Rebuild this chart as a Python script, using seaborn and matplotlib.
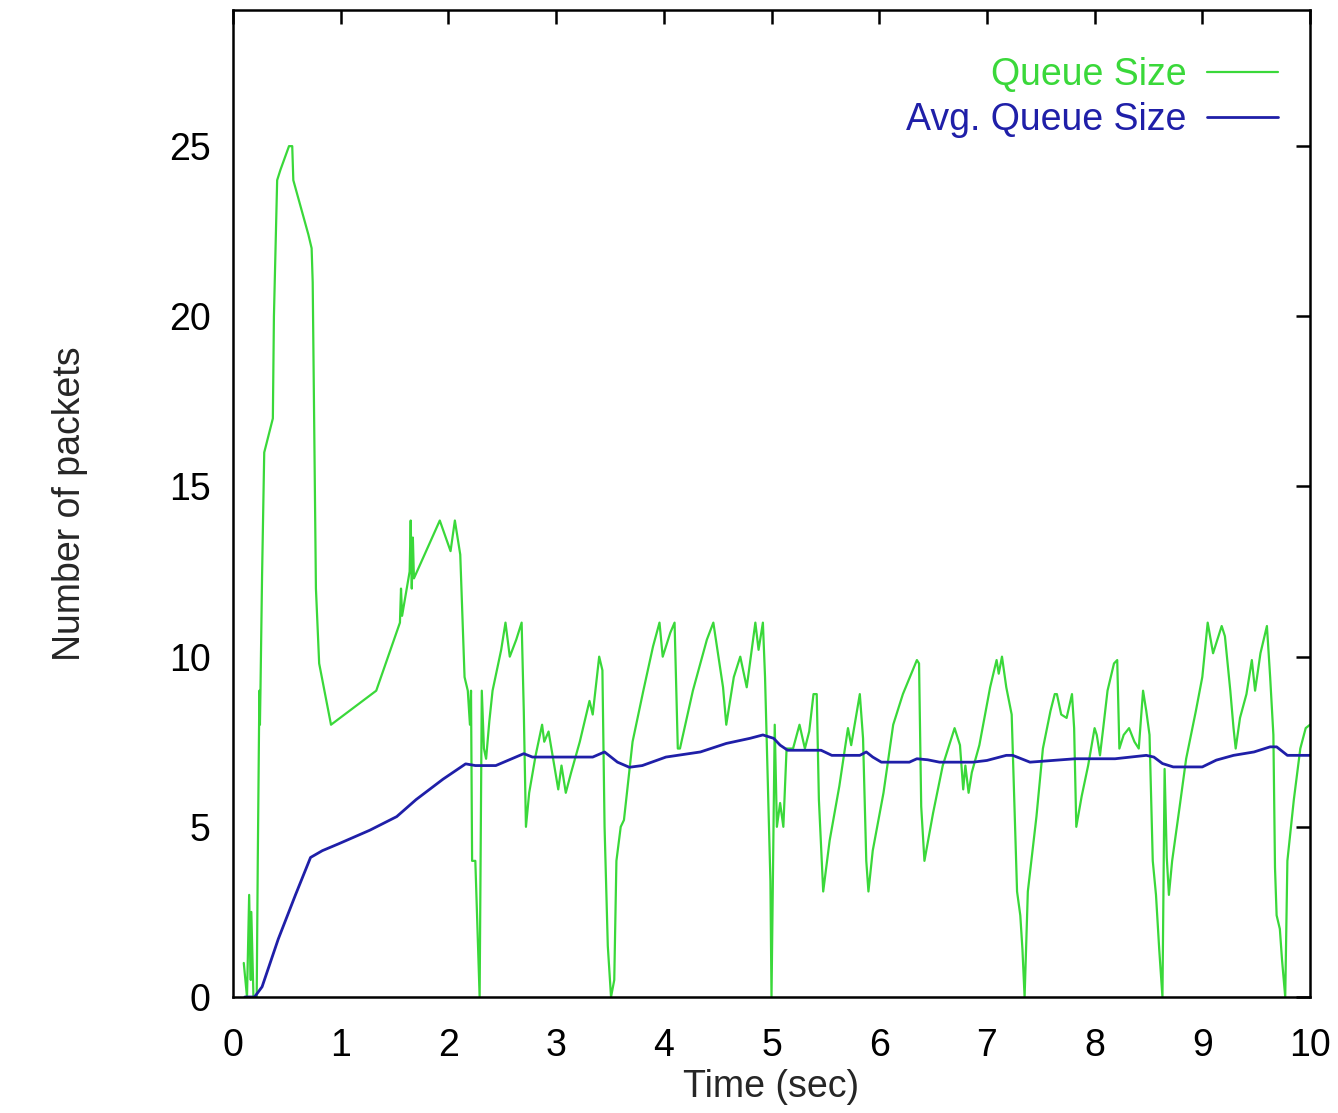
import numpy as np
import pandas as pd
import matplotlib
matplotlib.use('Agg')
import matplotlib.pyplot as plt
import seaborn as sns

# Instantaneous queue size (time in sec, packets)
queue_time = [
    0.10, 0.13, 0.15, 0.165, 0.17, 0.19, 0.22, 0.23, 0.245, 0.25, 0.255, 0.27, 0.29, 0.33, 0.37,
    0.38, 0.41, 0.44, 0.52, 0.55, 0.56, 0.70, 0.73, 0.74, 0.77, 0.80, 0.91, 1.33, 1.55, 1.56,
    1.57, 1.64, 1.65, 1.66, 1.67, 1.68, 1.92, 2.02, 2.06, 2.11, 2.15, 2.18, 2.20, 2.21, 2.22,
    2.25, 2.29, 2.31, 2.33, 2.35, 2.38, 2.41, 2.49, 2.53, 2.57, 2.63, 2.68, 2.70, 2.72, 2.75,
    2.81, 2.87, 2.89, 2.93, 3.02, 3.05, 3.09, 3.14, 3.22, 3.31, 3.34, 3.40, 3.43, 3.45, 3.48,
    3.51, 3.54, 3.56, 3.60, 3.63, 3.71, 3.81, 3.90, 3.96, 3.99, 4.06, 4.10, 4.13, 4.15, 4.27,
    4.40, 4.46, 4.55, 4.58, 4.65, 4.71, 4.77, 4.85, 4.88, 4.92, 4.94, 4.99, 5.00, 5.03, 5.05,
    5.08, 5.11, 5.14, 5.20, 5.26, 5.31, 5.35, 5.39, 5.42, 5.44, 5.48, 5.54, 5.63, 5.71, 5.74,
    5.82, 5.85, 5.88, 5.90, 5.94, 6.04, 6.13, 6.22, 6.35, 6.37, 6.39, 6.42, 6.50, 6.59, 6.70,
    6.75, 6.78, 6.80, 6.83, 6.86, 6.93, 7.03, 7.09, 7.11, 7.14, 7.18, 7.23, 7.28, 7.31, 7.33,
    7.35, 7.38, 7.46, 7.52, 7.59, 7.63, 7.65, 7.69, 7.74, 7.79, 7.81, 7.83, 7.88, 7.94, 8.00,
    8.02, 8.05, 8.08, 8.12, 8.18, 8.21, 8.23, 8.27, 8.32, 8.37, 8.41, 8.45, 8.48, 8.51, 8.54,
    8.57, 8.60, 8.63, 8.65, 8.67, 8.69, 8.72, 8.79, 8.85, 8.94, 9.00, 9.05, 9.10, 9.14, 9.18,
    9.21, 9.26, 9.29, 9.31, 9.35, 9.41, 9.46, 9.49, 9.54, 9.60, 9.63, 9.66, 9.675, 9.69, 9.72,
    9.74, 9.77, 9.79, 9.85, 9.91, 9.96, 10.0,
]
queue_size = [
    1.0, 0, 3, 0.5, 2.5, 0, 0, 4, 9, 8, 9, 12.4, 16, 16.5, 17,
    20, 24, 24.3, 25, 25, 24, 22.4, 22, 21, 12, 9.8, 8, 9, 11, 12,
    11.2, 12.5, 14, 12, 13.5, 12.3, 14, 13.1, 14, 13, 9.4, 9, 8, 9, 4,
    4, 0, 9, 7.3, 7, 8.1, 9, 10.2, 11, 10, 10.5, 11, 8.4, 5, 6,
    7.1, 8, 7.5, 7.8, 6.1, 6.8, 6.0, 6.6, 7.5, 8.7, 8.3, 10, 9.6, 5, 1.5,
    0, 0.5, 4, 5, 5.2, 7.5, 9, 10.3, 11, 10, 10.7, 11, 7.3, 7.3, 9,
    10.5, 11, 9.1, 8, 9.4, 10, 9.1, 11, 10.2, 11, 9.4, 3.4, 0, 8, 5,
    5.7, 5, 7.3, 7.3, 8, 7.3, 7.8, 8.9, 8.9, 5.8, 3.1, 4.6, 6.2, 7.9, 7.4,
    8.9, 7.6, 4, 3.1, 4.3, 6, 8, 8.9, 9.9, 9.8, 5.6, 4, 5.4, 6.8, 7.9,
    7.4, 6.1, 6.8, 6.0, 6.6, 7.4, 9.1, 9.9, 9.5, 10, 9.1, 8.3, 3.1, 2.4, 1.4,
    0, 3.1, 5.3, 7.3, 8.4, 8.9, 8.9, 8.3, 8.2, 8.9, 7.9, 5, 5.9, 6.8, 7.9,
    7.7, 7.1, 7.9, 9, 9.8, 9.9, 7.3, 7.7, 7.9, 7.5, 7.3, 9, 8.4, 7.7, 4,
    3, 1.4, 0, 6.7, 4.1, 3, 4, 5.6, 7, 8.4, 9.4, 11, 10.1, 10.5, 10.9,
    10.6, 9, 7.9, 7.3, 8.2, 8.9, 9.9, 9, 10.1, 10.9, 9.4, 7.7, 3.8, 2.4, 2,
    1.1, 0, 4, 5.8, 7.3, 7.9, 8.0,
]

# Averaged queue size
avg_time = [
    0.11, 0.20, 0.27, 0.42, 0.58, 0.72, 0.83, 0.98, 1.27, 1.52, 1.70, 1.95, 2.16, 2.25, 2.44,
    2.70, 2.78, 3.34, 3.45, 3.57, 3.68, 3.80, 4.02, 4.34, 4.58, 4.80, 4.92, 5.02, 5.08, 5.15,
    5.46, 5.56, 5.82, 5.88, 5.94, 6.02, 6.28, 6.35, 6.45, 6.56, 6.87, 7.00, 7.18, 7.24, 7.40,
    7.82, 8.19, 8.48, 8.55, 8.63, 8.73, 9.00, 9.13, 9.29, 9.48, 9.63, 9.69, 9.79, 10.0,
]
avg_size = [
    0, 0, 0.3, 1.7, 3.0, 4.1, 4.3, 4.5, 4.9, 5.3, 5.8, 6.4, 6.85, 6.8, 6.8,
    7.15, 7.05, 7.05, 7.2, 6.9, 6.75, 6.8, 7.05, 7.2, 7.45, 7.6, 7.7, 7.6, 7.4, 7.25,
    7.25, 7.1, 7.1, 7.2, 7.05, 6.9, 6.9, 7.0, 6.97, 6.9, 6.9, 6.95, 7.1, 7.1, 6.9,
    7.0, 7.0, 7.1, 7.05, 6.86, 6.76, 6.76, 6.96, 7.1, 7.2, 7.35, 7.35, 7.1, 7.1,
]

x_ticks = list(range(0, 11))
y_ticks = [0, 5, 10, 15, 20, 25]

GREEN = '#3ad83a'
BLUE = '#1f1fa8'

sns.set_theme(style='white')
plt.rcParams['font.family'] = ['Liberation Sans', 'DejaVu Sans']
plt.rcParams['font.size'] = 27

queue_df = pd.DataFrame({'time': queue_time, 'packets': queue_size})
avg_df = pd.DataFrame({'time': avg_time, 'packets': avg_size})

fig = plt.figure(figsize=(13.38, 11.13), dpi=100)
ax = fig.add_axes([233 / 1338, 116 / 1113, 1077 / 1338, 987 / 1113])

sns.lineplot(data=queue_df, x='time', y='packets', ax=ax, color=GREEN,
             linewidth=1.6, estimator=None, sort=False, label='Queue Size')
sns.lineplot(data=avg_df, x='time', y='packets', ax=ax, color=BLUE,
             linewidth=2.0, estimator=None, sort=False, label='Avg. Queue Size')

ax.set_xlim(0, 10)
ax.set_ylim(0, 29)
ax.set_xticks(x_ticks)
ax.set_yticks(y_ticks)
ax.tick_params(direction='in', length=10, width=1.8, top=True, right=True,
               labelsize=27, colors='black')
ax.tick_params(axis='x', pad=22)
ax.tick_params(axis='y', pad=16)
for spine in ax.spines.values():
    spine.set_visible(True)
    spine.set_color('black')
    spine.set_linewidth(1.8)

ax.set_xlabel('Time (sec)', fontsize=27, labelpad=4)
ax.set_ylabel('Number of packets', fontsize=27, labelpad=58)

ax.legend(loc='upper right', bbox_to_anchor=(1.0, 0.985), frameon=False,
          markerfirst=False, labelcolor='linecolor', fontsize=27,
          handlelength=1.9, handletextpad=0.55, labelspacing=0.25,
          borderaxespad=0.45, borderpad=0.4)

fig.savefig('out.png', dpi=100)
